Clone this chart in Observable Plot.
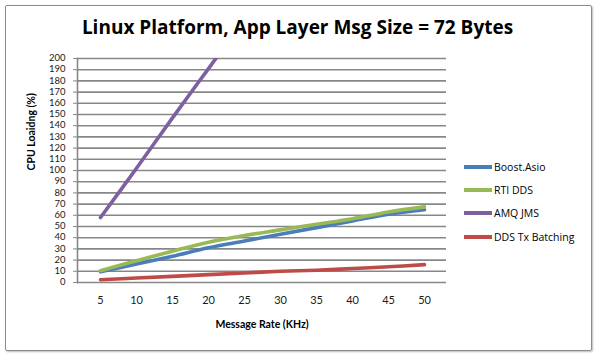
<!DOCTYPE html>
<html>
<head>
<meta charset="utf-8">
<script src="https://cdn.jsdelivr.net/npm/d3@7"></script>
<script src="https://cdn.jsdelivr.net/npm/@observablehq/plot@0.6"></script>
<style>
  body { margin: 0; background: #fff; font-family: "Open Sans", "Noto Sans", sans-serif; }
  #wrap { position: relative; width: 595px; height: 355px; overflow: hidden; }
  #frame { position: absolute; left: 5px; top: 5px; width: 585px; height: 344px; border: 1.5px solid #8a8a8a; border-radius: 2px; box-shadow: 1px 1px 2px #bbb; }
  #title { position: absolute; left: 0; width: 595px; top: 14px; text-align: center; font-weight: bold; font-size: 19px; color: #000; }
  #chart { position: absolute; left: 0; top: 0; }
  #legend { position: absolute; left: 464px; top: 155px; font-size: 10.5px; color: #000; }
  .item { display: flex; align-items: center; height: 23.3px; }
  .sw { width: 28px; height: 4px; margin-right: 2px; }
</style>
</head>
<body>
<div id="wrap">
  <div id="frame"></div>
  <div id="chart"></div>
  <div id="title"></div>
  <div id="legend"></div>
</div>
<script>
const titleText = "Linux Platform, App Layer Msg Size = 72 Bytes";
const xLabel = "Message Rate (KHz)";
const yLabel = "CPU Loaidng (%)";
const rates = [5, 10, 15, 20, 25, 30, 35, 40, 45, 50];
const yTicks = d3.range(0, 201, 10);
const seriesNames = ["Boost.Asio", "RTI DDS", "AMQ JMS", "DDS Tx Batching"];
const colors = ["#4a7ebb", "#98b954", "#7d60a0", "#be4b48"];
const boostAsio = [9.5, 16.5, 23.5, 31, 37, 43, 49, 55, 61, 65];
const rtiDds = [10.5, 19.5, 28, 36, 42, 47, 52, 57, 63, 67.5];
const amqJms = [58, 102, 147, 191, 235];
const ddsTxBatching = [2.5, 4, 5.5, 7, 8.5, 10, 11, 12.5, 14, 16];

const seriesValues = [boostAsio, rtiDds, amqJms, ddsTxBatching];
const data = [];
seriesNames.forEach((name, i) => {
  seriesValues[i].forEach((v, j) => data.push({series: name, rate: rates[j], value: v}));
});

document.getElementById("title").textContent = titleText;

const plot = Plot.plot({
  width: 595,
  height: 355,
  marginLeft: 77,
  marginRight: 149,
  marginTop: 58,
  marginBottom: 73,
  style: {fontFamily: "Lato, 'Open Sans', sans-serif", fontSize: "11px", color: "#1a1a1a", background: "transparent"},
  x: {type: "point", domain: rates, padding: 0.5, label: null},
  y: {domain: [0, 200], label: null},
  color: {domain: seriesNames, range: colors},
  marks: [
    Plot.ruleY(yTicks, {stroke: "#878787", strokeWidth: 1.6}),
    Plot.frame({anchor: "left", stroke: "#878787", strokeWidth: 1.6}),
    Plot.axisY({ticks: yTicks, tickSize: 4, tickPadding: 8, stroke: "#878787", fontSize: 9.5, lineHeight: 0.9}),
    Plot.axisX({tickSize: 0, tickPadding: 14, fontSize: 11}),
    Plot.line(data, {x: "rate", y: "value", z: "series", stroke: "series", strokeWidth: 3.6, curve: "catmull-rom", clip: true}),
    Plot.text([xLabel], {frameAnchor: "bottom", dy: 45, fontWeight: "bold", fontSize: 10.5, fill: "#000"}),
    Plot.text([yLabel], {frameAnchor: "left", dx: -46, rotate: -90, fontWeight: "bold", fontSize: 10.5, fill: "#000"})
  ]
});
document.getElementById("chart").appendChild(plot);

const legend = document.getElementById("legend");
seriesNames.forEach((name, i) => {
  const row = document.createElement("div");
  row.className = "item";
  const sw = document.createElement("div");
  sw.className = "sw";
  sw.style.background = colors[i];
  const lab = document.createElement("span");
  lab.textContent = name;
  row.appendChild(sw);
  row.appendChild(lab);
  legend.appendChild(row);
});
</script>
</body>
</html>
